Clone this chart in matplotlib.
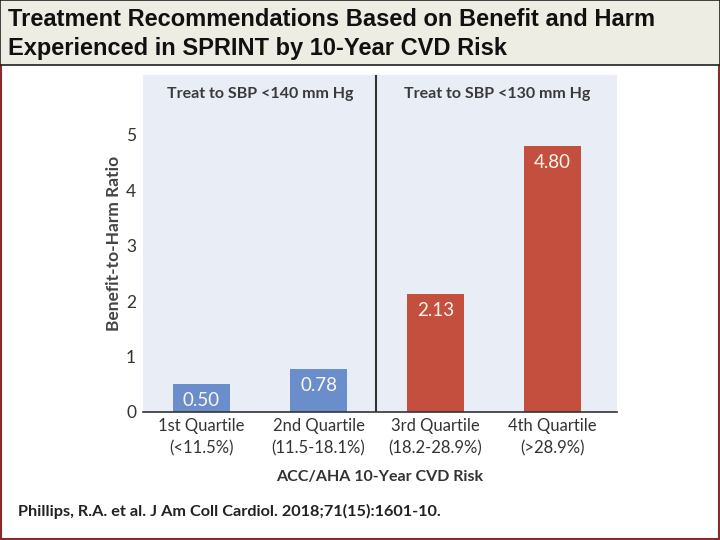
import matplotlib
matplotlib.use("Agg")
import matplotlib.pyplot as plt
from matplotlib.patches import Rectangle

# data
quartiles = ["1st Quartile\n(<11.5%)", "2nd Quartile\n(11.5-18.1%)",
             "3rd Quartile\n(18.2-28.9%)", "4th Quartile\n(>28.9%)"]
ratios = [0.50, 0.78, 2.13, 4.80]
ratio_labels = ["0.50", "0.78", "2.13", "4.80"]
yticks = [0, 1, 2, 3, 4, 5]
group_titles = ["Treat to SBP <140 mm Hg", "Treat to SBP <130 mm Hg"]

blue = "#6A8ECB"
red = "#C44F3E"
bar_colors = [blue, blue, red, red]

fig = plt.figure(figsize=(7.2, 5.4), dpi=100)
fig.patch.set_facecolor("white")

# title banner and outer frame
fig.patches.append(Rectangle((0.002, 0.002), 0.996, 0.996, transform=fig.transFigure,
                             facecolor="none", edgecolor="#8B2A2A", lw=1.5, zorder=0))
fig.patches.append(Rectangle((0.0, 0.879), 1.0, 0.121, transform=fig.transFigure,
                             facecolor="#EEEDE3", edgecolor="#222222", lw=1.2, zorder=1))
fig.text(0.011, 0.963, "Treatment Recommendations Based on Benefit and Harm",
         family="Liberation Sans", weight="bold", fontsize=17, color="#111111",
         va="center", ha="left")
fig.text(0.011, 0.911, "Experienced in SPRINT by 10-Year CVD Risk",
         family="Liberation Sans", weight="bold", fontsize=17, color="#111111",
         va="center", ha="left")

ax = fig.add_axes([143 / 720, 128 / 540, 474 / 720, 337 / 540])
ax.set_zorder(3)
ax.set_facecolor("#E9EEF6")
x = range(len(ratios))
ax.bar(x, ratios, width=0.49, color=bar_colors, zorder=2)
ax.set_xlim(-0.5, 3.55)
ax.set_ylim(0, 6.08)

for xi, v, lab in zip(x, ratios, ratio_labels):
    ax.text(xi, v - 0.3, lab, ha="center", va="center", color="#FFF6EC",
            fontsize=13.5, family="Lato", zorder=3)

ax.axvline(1.49, color="#333333", lw=1.5, zorder=3)
ax.text(0.5, 5.74, group_titles[0], ha="center", va="center", fontsize=11.5,
        weight="bold", family="Lato", color="#3A3A3A")
ax.text(2.53, 5.74, group_titles[1], ha="center", va="center", fontsize=11.5,
        weight="bold", family="Lato", color="#3A3A3A")

for s in ["top", "right", "left"]:
    ax.spines[s].set_visible(False)
ax.spines["bottom"].set_color("#333333")
ax.spines["bottom"].set_linewidth(1.2)

ax.set_xticks(list(x))
ax.set_xticklabels(quartiles, fontsize=12, family="Lato", color="#333333",
                   linespacing=1.5)
ax.set_yticks(yticks)
ax.set_yticklabels([str(t) for t in yticks], fontsize=12.5, family="Lato", color="#333333")
ax.tick_params(axis="x", length=0, pad=4)
ax.tick_params(axis="y", length=0, pad=5)

ax.set_ylabel("Benefit-to-Harm Ratio", fontsize=12.5, weight="bold", family="Lato",
              color="#444444", labelpad=3)
ax.set_xlabel("ACC/AHA 10-Year CVD Risk", fontsize=11.5, weight="bold", family="Lato",
              color="#333333", labelpad=10)

fig.text(0.025, 0.052, "Phillips, R.A. et al. J Am Coll Cardiol. 2018;71(15):1601-10.",
         fontsize=11.7, weight="bold", family="Lato", color="#222222", va="center")

fig.savefig("out.png", dpi=100)
